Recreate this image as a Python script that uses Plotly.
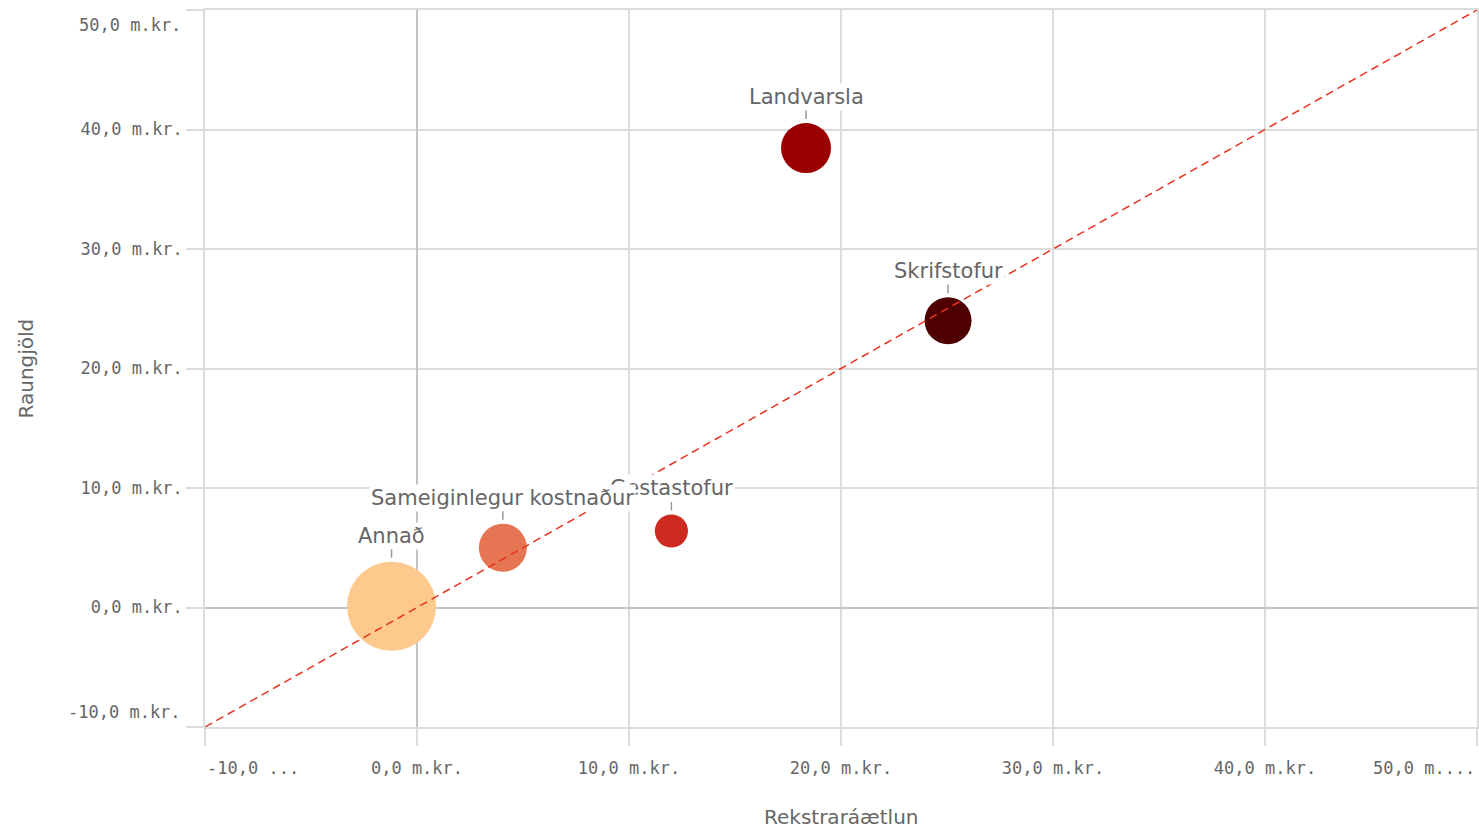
import plotly.graph_objects as go
import math

# ---- data ----
categories = ["Annað", "Sameiginlegur kostnaður", "Gestastofur", "Landvarsla", "Skrifstofur"]
budget = [-1.2, 4.05, 12.0, 18.35, 25.05]        # Rekstraráætlun (m.kr.)
actual = [0.1, 5.0, 6.4, 38.45, 24.0]            # Raungjöld (m.kr.)
bubble_size = [7.9, 2.3, 1.1, 2.5, 2.2]           # bubble measure
colors = ["#fdc98c", "#e57553", "#cc2a1e", "#9b0000", "#4e0000"]

tick_vals = [-10, 0, 10, 20, 30, 40, 50]
y_tick_text = ["", "0,0 m.kr.", "10,0 m.kr.", "20,0 m.kr.", "30,0 m.kr.", "40,0 m.kr.", ""]
x_tick_text = ["", "0,0 m.kr.", "10,0 m.kr.", "20,0 m.kr.", "30,0 m.kr.", "40,0 m.kr.", ""]
x_edge_text = {-10: "-10,0 ...", 50: "50,0 m...."}
y_edge_text = {-10: "-10,0 m.kr.", 50: "50,0 m.kr."}
x_title = "Rekstraráætlun"
y_title = "Raungjöld"
ref_line = [-10, 50]

FONT = "DejaVu Sans"
TICKFONT = "DejaVu Sans Mono"
TXT = "#666666"
GRID = "#dcdcdc"
SIZEREF = 0.001995

fig = go.Figure()
fig.add_trace(go.Scatter(
    x=budget, y=actual, mode="markers",
    marker=dict(size=bubble_size, sizemode="area", sizeref=SIZEREF, color=colors,
                opacity=1, line=dict(width=0)),
    hoverinfo="text", text=categories, showlegend=False))
fig.add_trace(go.Scatter(
    x=ref_line, y=ref_line, mode="lines",
    line=dict(color="#e8321e", width=1.5, dash="8px,5px"),
    hoverinfo="skip", showlegend=False))

# labels (order so that Sameiginlegur draws over Gestastofur)
order = [0, 2, 1, 3, 4]
for i in order:
    r = math.sqrt(bubble_size[i] / (2 * SIZEREF))
    fig.add_annotation(
        x=budget[i], y=actual[i], xref="x", yref="y",
        text=categories[i], showarrow=True, arrowhead=0, arrowwidth=1.5,
        arrowcolor="#999999", ax=0, ay=-(r + 26), standoff=r + 4,
        bgcolor="white", borderpad=1,
        font=dict(family=FONT, size=21, color=TXT))

# edge tick labels (shifted inward as in the original)
for v, t in x_edge_text.items():
    fig.add_annotation(
        x=v, y=0, xref="x", yref="paper", text=t, showarrow=False,
        xanchor="left" if v < 0 else "right", yanchor="middle", yshift=-41,
        font=dict(family=TICKFONT, size=17, color=TXT))
for v, t in y_edge_text.items():
    fig.add_annotation(
        x=0, y=v, xref="paper", yref="y", text=t, showarrow=False,
        xanchor="right", xshift=-22,
        yanchor="bottom" if v < 0 else "top", yshift=3 if v < 0 else -3,
        font=dict(family=TICKFONT, size=17, color=TXT))

# axis titles
fig.add_annotation(x=0.5, y=0, xref="paper", yref="paper", text=x_title, showarrow=False,
                   yanchor="middle", yshift=-90, font=dict(family=FONT, size=20, color=TXT))
fig.add_annotation(x=0, y=0.5, xref="paper", yref="paper", text=y_title, showarrow=False,
                   textangle=-90, xanchor="center", xshift=-180,
                   font=dict(family=FONT, size=20, color=TXT))

axis_common = dict(
    range=[-10, 50], tickvals=tick_vals, showgrid=True, gridcolor=GRID, gridwidth=1.5,
    zeroline=True, zerolinecolor="#c4c4c4", zerolinewidth=2,
    showline=True, linecolor=GRID, linewidth=1.5, mirror=True,
    ticks="outside", ticklen=17, tickcolor=GRID, tickwidth=1.5,
    tickfont=dict(family=TICKFONT, size=17, color=TXT),
    automargin=False, ticklabeloverflow="allow",
)

fig.update_xaxes(**axis_common, ticktext=x_tick_text, ticklabelstandoff=8)
fig.update_yaxes(**axis_common, ticktext=y_tick_text)

fig.update_layout(
    width=1479, height=829,
    margin=dict(l=205, r=2, t=10, b=102),
    paper_bgcolor="white", plot_bgcolor="white",
    font=dict(family=FONT, color=TXT),
)

# remove the default 8px page margin so the figure fills the window exactly
fig.write_html("out.html",
               config={"displayModeBar": False},
               post_script="document.body.style.margin='0';document.body.style.overflow='hidden';")
